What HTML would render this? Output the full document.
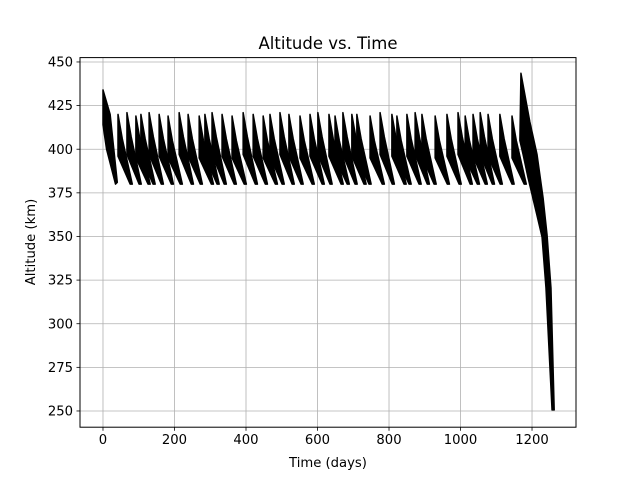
<!DOCTYPE html>
<html><head><meta charset="utf-8"><style>
body{margin:0;background:#fff}
svg{display:block;font-family:"DejaVu Sans","Liberation Sans",sans-serif}
</style></head><body>
<svg id="chart" width="640" height="480">
<rect width="640" height="480" fill="#fff"/>
<g id="grid"></g>
<g id="marks"></g>
<rect x="80" y="57.6" width="496" height="369.6" fill="none" stroke="#000" stroke-width="1"/>
<g id="ticks" font-size="13.2"></g>
<text x="328" y="49" text-anchor="middle" font-size="16.5">Altitude vs. Time</text>
<text x="328" y="467" text-anchor="middle" font-size="13.2">Time (days)</text>
<text transform="translate(35,242) rotate(-90)" text-anchor="middle" font-size="13.2">Altitude (km)</text>
</svg>
<script>
const xTicks=[0,200,400,600,800,1000,1200];
const yTicks=[250,275,300,325,350,375,400,425,450];
const reboostDays=[42,67,92,106,129,157,182,213,238,269,285,305,333,361,392,420,448,467,495,520,551,579,601,632,649,671,696,710,747,775,808,822,850,873,892,929,962,993,1013,1035,1055,1077,1110,1144];
const peakAlts=[420,421,419,420,421,420,419,421,420,419,420,421,420,419,421,420,419,420,421,420,419,420,421,420,419,421,420,420,419,421,420,419,420,421,420,419,420,421,419,420,421,420,420,419];
const minAlt=380;
const initDays=[0,20,40,35,10,0];
const initAlts=[434,420,381,380,400,414];
const decayUpperDays=[1169,1194,1214,1231,1242,1253,1262];
const decayUpperAlts=[443.5,415.6,397,372,351,320.5,250.6];
const decayLowerDays=[1256,1239,1228,1214,1189,1175,1166];
const decayLowerAlts=[250.6,320.5,349.7,362,383.5,397,405];

const X0=80,X1=576,Y0=427.2,Y1=57.6,xmin=-64.3,xmax=1323,ymin=240.7,ymax=452.5;
const xs=d=>X0+(d-xmin)/(xmax-xmin)*(X1-X0);
const ys=v=>Y0-(v-ymin)/(ymax-ymin)*(Y0-Y1);
const NS='http://www.w3.org/2000/svg';
function mk(tag,attrs,parent){const e=document.createElementNS(NS,tag);for(const k in attrs)e.setAttribute(k,attrs[k]);parent.appendChild(e);return e;}
const grid=document.getElementById('grid'),marks=document.getElementById('marks'),ticks=document.getElementById('ticks');
xTicks.forEach(t=>{const x=xs(t);
 const g=mk('line',{x1:x,x2:x,y1:Y1,y2:Y0,stroke:'#b0b0b0','stroke-width':0.8},grid);
 
 
 const tk=mk('line',{x1:x,x2:x,y1:Y0,y2:Y0+3.5,stroke:'#000','stroke-width':0.8},ticks);
 
 
 const l=mk('text',{x:x,y:Y0+17,'text-anchor':'middle'},ticks);l.textContent=t;
 
 
});
yTicks.forEach(t=>{const y=ys(t);
 const g=mk('line',{x1:X0,x2:X1,y1:y,y2:y,stroke:'#b0b0b0','stroke-width':0.8},grid);
 
 
 const tk=mk('line',{x1:X0-3.5,x2:X0,y1:y,y2:y,stroke:'#000','stroke-width':0.8},ticks);
 
 
 const l=mk('text',{x:X0-7,y:y+4.6,'text-anchor':'end'},ticks);l.textContent=t;
 
 
});
function poly(ds,as,name){
 const p=mk('polygon',{points:ds.map((d,i)=>xs(d)+','+ys(as[i])).join(' '),fill:'#000',stroke:'#000','stroke-width':1.5,'stroke-linejoin':'round'},marks);
 
 
}
poly(initDays,initAlts,'initial-decay');
reboostDays.forEach((t0,i)=>{
 const pk=peakAlts[i];
 poly([t0,t0+12,t0+40,t0+34,t0],[pk,pk-14,minAlt,minAlt,pk-24],'sawtooth-cycle');
});
poly(decayUpperDays.concat(decayLowerDays),decayUpperAlts.concat(decayLowerAlts),'final-decay');
</script>
</body></html>
